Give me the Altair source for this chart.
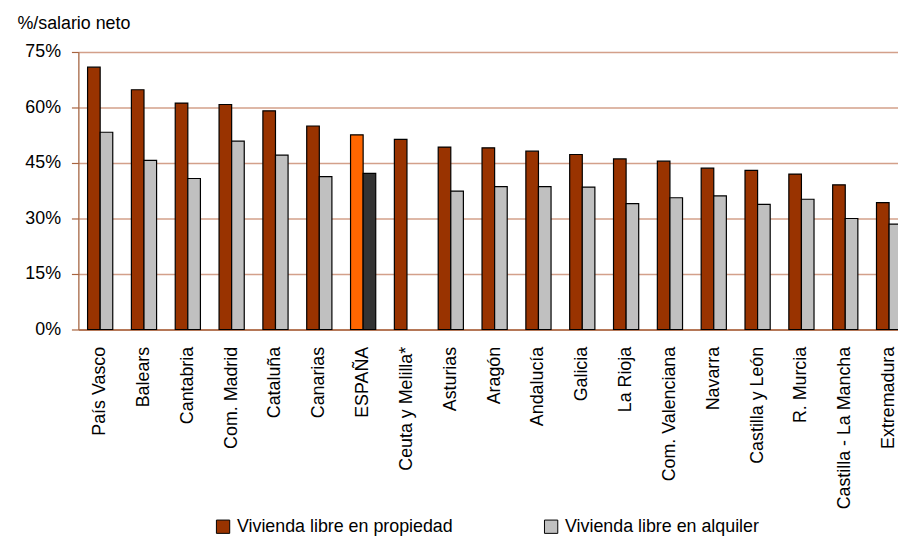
import altair as alt
import pandas as pd

regiones = ["País Vasco", "Balears", "Cantabria", "Com. Madrid", "Cataluña", "Canarias",
            "ESPAÑA", "Ceuta y Melilla*", "Asturias", "Aragón", "Andalucía", "Galicia",
            "La Rioja", "Com. Valenciana", "Navarra", "Castilla y León", "R. Murcia",
            "Castilla - La Mancha", "Extremadura"]
propiedad = [70.9, 64.8, 61.2, 60.8, 59.1, 55.0, 52.6, 51.4, 49.3, 49.1, 48.2, 47.3,
             46.1, 45.5, 43.6, 43.0, 42.0, 39.1, 34.3]
alquiler = [53.3, 45.7, 40.8, 50.9, 47.1, 41.3, 42.2, None, 37.4, 38.6, 38.6, 38.5,
            34.0, 35.6, 36.1, 33.8, 35.2, 30.0, 28.5]
y_ticks = [0, 15, 30, 45, 60, 75]

L_PROP = "Vivienda libre en propiedad"
L_ALQ = "Vivienda libre en alquiler"
E_PROP = "ESPAÑA - propiedad"
E_ALQ = "ESPAÑA - alquiler"

rows = []
for r, p, a in zip(regiones, propiedad, alquiler):
    esp = r == "ESPAÑA"
    rows.append({"region": r, "serie": "propiedad", "valor": p,
                 "clave": E_PROP if esp else L_PROP})
    if a is not None:
        rows.append({"region": r, "serie": "alquiler", "valor": a,
                     "clave": E_ALQ if esp else L_ALQ})
df = pd.DataFrame(rows)

BROWN_AX = "#A8643F"
GRID = "#D3A08A"
FONT = "Liberation Sans"

chart = alt.Chart(df).mark_bar(stroke="black", strokeWidth=1.2).encode(
    x=alt.X("region:N", sort=regiones,
            scale=alt.Scale(paddingInner=0.4253, paddingOuter=0.21, range=[0, 840]),
            axis=alt.Axis(title=None, labelAngle=-90, labelAlign="right",
                          labelBaseline="middle", ticks=False, labelPadding=17,
                          labelFont=FONT, labelFontSize=18, labelColor="black",
                          domainColor=BROWN_AX, domainWidth=1.3, grid=False,
                          labelLimit=300)),
    xOffset=alt.XOffset("serie:N", sort=["propiedad", "alquiler"],
                        scale=alt.Scale(domain=["propiedad", "alquiler"])),
    y=alt.Y("valor:Q", scale=alt.Scale(domain=[0, 75], nice=False),
            axis=alt.Axis(values=y_ticks, labelExpr="datum.value + '%'",
                          labelFont=FONT, labelFontSize=18, labelColor="black",
                          labelPadding=11, tickSize=7, tickColor=BROWN_AX,
                          tickWidth=1.2, domainColor=BROWN_AX, domainWidth=1.2,
                          gridColor=GRID, gridWidth=1.6,
                          title="%/salario neto", titleAngle=0, titleX=-62, titleY=-24,
                          titleAlign="left", titleBaseline="alphabetic",
                          titleFont=FONT, titleFontSize=18, titleFontWeight="normal",
                          titleColor="black")),
    color=alt.Color("clave:N",
                    scale=alt.Scale(domain=[L_PROP, L_ALQ, E_PROP, E_ALQ],
                                    range=["#993300", "#C0C0C0", "#FF6600", "#333333"]),
                    legend=alt.Legend(values=[L_PROP, L_ALQ], orient="none",
                                      legendX=137, legendY=470, direction="horizontal",
                                      title=None, labelFont=FONT, labelFontSize=18,
                                      labelColor="black", symbolType="square",
                                      symbolSize=180, symbolStrokeColor="black",
                                      symbolStrokeWidth=1, labelOffset=5,
                                      columnPadding=90, labelLimit=400,
                                      symbolOpacity=1)),
).properties(
    width=827,
    height=280,
    title=alt.TitleParams(text="Esfuerzo de compra de vivienda por CC.AA. y tenencia",
                          anchor="start", dx=55, offset=43, baseline="alphabetic",
                          font=FONT, fontSize=17, fontWeight="bold", color="#B84000"),
    autosize=alt.AutoSizeParams(type="none"),
    padding={"left": 71, "top": 42, "right": 0, "bottom": 208},
).configure_view(stroke=None).configure(background="white")

chart.save("out.html", embed_options={"renderer": "svg", "actions": False})
